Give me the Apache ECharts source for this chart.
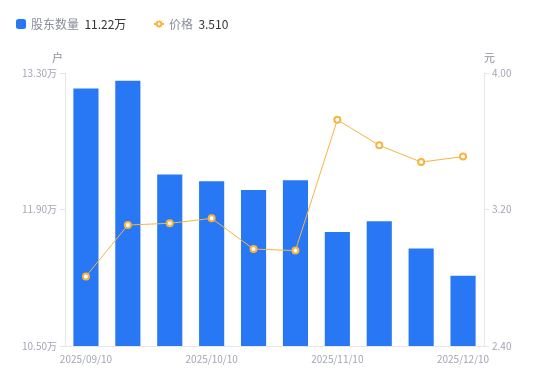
<!DOCTYPE html>
<html>
<head>
<meta charset="utf-8">
<script src="https://cdn.jsdelivr.net/npm/echarts@6/dist/echarts.min.js"></script>
<style>
html,body{margin:0;padding:0;background:#fff;}
#chart{width:550px;height:381px;}
</style>
</head>
<body>
<div id="chart"></div>
<script>
// 日期
var dates = ['2025/09/10','2025/09/20','2025/09/30','2025/10/10','2025/10/20','2025/10/31','2025/11/10','2025/11/20','2025/11/28','2025/12/10'];
// 股东数量（万户）
var holders = [13.14, 13.22, 12.26, 12.19, 12.10, 12.20, 11.67, 11.78, 11.50, 11.22];
// 价格（元）
var prices = [2.808, 3.109, 3.119, 3.148, 2.968, 2.959, 3.726, 3.576, 3.478, 3.510];

var lastHolder = holders[holders.length - 1].toFixed(2) + '万';
var lastPrice = prices[prices.length - 1].toFixed(3);

var labelColor = '#a3a7b5';
var lineColor = '#e6e6e6';

function legendFmt(name) {
    var v = name == '股东数量' ? lastHolder : lastPrice;
    return '{n|' + name + '}  {v|' + v + '}';
}
var legendText = {
    rich: {
        n: { color: '#8a8e9c', fontSize: 12 },
        v: { color: '#333', fontSize: 12 }
    }
};

var option = {
    textStyle: { fontFamily: 'Noto Sans CJK SC' },
    legend: [
        {
            left: 11,
            top: 13,
            itemWidth: 10,
            itemHeight: 10,
            data: [{ name: '股东数量', icon: 'roundRect' }],
            formatter: legendFmt,
            textStyle: legendText
        },
        {
            left: 148,
            top: 13,
            itemWidth: 10,
            itemHeight: 6,
            data: [{ name: '价格' }],
            formatter: legendFmt,
            textStyle: legendText
        }
    ],
    grid: {
        left: 65,
        right: 66,
        top: 73,
        bottom: 35
    },
    xAxis: {
        type: 'category',
        data: dates,
        axisLine: { lineStyle: { color: lineColor } },
        axisTick: { show: false },
        axisLabel: {
            color: labelColor,
            fontSize: 10,
            interval: 2,
            margin: 8
        }
    },
    yAxis: [
        {
            type: 'value',
            name: '户',
            nameGap: 10,
            nameTextStyle: { color: '#8a8e9c', fontSize: 11, align: 'right', padding: [0, 2, 0, 0] },
            min: 10.5,
            max: 13.3,
            interval: 1.4,
            axisLine: { show: true, lineStyle: { color: lineColor } },
            axisTick: { show: true, length: 5, lineStyle: { color: lineColor } },
            splitLine: { show: false },
            axisLabel: {
                color: labelColor,
                fontSize: 10,
                margin: 8,
                formatter: function (v) { return v.toFixed(2) + '万'; }
            }
        },
        {
            type: 'value',
            name: '元',
            nameGap: 10,
            nameTextStyle: { color: '#8a8e9c', fontSize: 11, align: 'left' },
            min: 2.4,
            max: 4.0,
            interval: 0.8,
            axisLine: { show: true, lineStyle: { color: lineColor } },
            axisTick: { show: true, length: 5, lineStyle: { color: lineColor } },
            splitLine: { show: false },
            axisLabel: {
                color: labelColor,
                fontSize: 10,
                margin: 8,
                formatter: function (v) { return v.toFixed(2); }
            }
        }
    ],
    series: [
        {
            name: '股东数量',
            type: 'bar',
            yAxisIndex: 0,
            barWidth: '60%',
            data: holders,
            itemStyle: { color: '#2878f5' }
        },
        {
            name: '价格',
            type: 'line',
            yAxisIndex: 1,
            data: prices,
            symbol: 'emptyCircle',
            symbolSize: 6,
            lineStyle: { width: 1, color: '#f7b440' },
            itemStyle: { color: '#f7b440', borderWidth: 2 }
        }
    ]
};

var chart = echarts.init(document.getElementById('chart'));
chart.setOption(option);
</script>
</body>
</html>
